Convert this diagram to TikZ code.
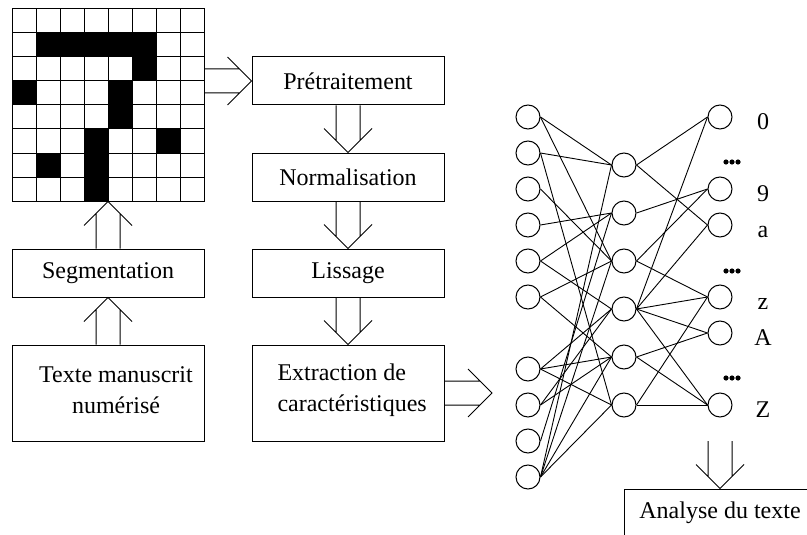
\documentclass[tikz,border=0pt]{standalone}
\usepackage{fontspec}
\setmainfont{Liberation Serif}
\newcommand\arrDown[2]{%
  \draw ([xshift=-12pt]#1) -- ([xshift=-12pt,yshift=12pt]#2)
        ([xshift=12pt]#1) -- ([xshift=12pt,yshift=12pt]#2)
        ([xshift=-24pt,yshift=24pt]#2) -- (#2) -- ([xshift=24pt,yshift=24pt]#2);}
\newcommand\arrUp[2]{%
  \draw ([xshift=-12pt]#1) -- ([xshift=-12pt,yshift=-12pt]#2)
        ([xshift=12pt]#1) -- ([xshift=12pt,yshift=-12pt]#2)
        ([xshift=-24pt,yshift=-24pt]#2) -- (#2) -- ([xshift=24pt,yshift=-24pt]#2);}
\newcommand\arrRight[2]{%
  \draw ([yshift=12pt]#1) -- ([xshift=-12pt,yshift=12pt]#2)
        ([yshift=-12pt]#1) -- ([xshift=-12pt,yshift=-12pt]#2)
        ([xshift=-24pt,yshift=24pt]#2) -- (#2) -- ([xshift=-24pt,yshift=-24pt]#2);}
\begin{document}
\begin{tikzpicture}[x=1pt,y=-1pt,line width=1pt,
  box/.style={draw,minimum width=192pt,minimum height=48pt,inner sep=0pt,font=\fontsize{24}{31}\selectfont},
  txt/.style={inner sep=0pt,font=\fontsize{24}{31}\selectfont},
  lbl/.style={anchor=base,inner sep=0pt,font=\fontsize{24}{31}\selectfont},
  neuron/.style={draw,circle,minimum size=24pt,inner sep=0pt},
  link/.style={line width=0.9pt}]
\useasboundingbox (0,0) rectangle (807,535);
\clip (0,0) rectangle (807,535);
% character grid
\foreach \c/\r in {1/1,2/1,3/1,4/1,5/1,5/2,0/3,4/3,4/4,3/5,6/5,1/6,3/6,3/7}
  \fill ({12+24*\c},{9+24*\r}) rectangle ++(24,24);
\foreach \k in {1,...,7} {
  \draw ({12+24*\k},9) -- ({12+24*\k},201);
  \draw (12,{9+24*\k}) -- (204,{9+24*\k});
}
\node[draw,minimum size=192pt,inner sep=0pt] (grid) at (108,105) {};
% pipeline boxes
\node[box] (pre) at (348,81) {Prétraitement};
\node[box] (norm) at (348,177) {Normalisation};
\node[box] (liss) at (348,273) {Lissage};
\node[box,minimum height=96pt] (extr) at (348,393) {};
\node[txt,align=left,anchor=west] (extrtxt) at (277,390) {Extraction de\\caractéristiques};
\node[box] (seg) at (108,273) {Segmentation};
\node[box,minimum height=96pt] (texte) at (108,393) {};
\node[txt,align=center] (textetxt) at (116,390) {Texte manuscrit\\numérisé};
\node[box] (analyse) at (720,513) {Analyse du texte};
% neural network
\foreach \n/\y in {1/117,2/153,3/189,4/225,5/261,6/297,7/369,8/405,9/441,10/477}
  \node[neuron] (i\n) at (528,\y) {};
\foreach \n/\y in {1/165,2/213,3/261,4/309,5/357,6/405}
  \node[neuron] (h\n) at (624,\y) {};
\foreach \n/\y/\t in {1/117/0,2/189/9,3/225/a,4/297/z,5/333/A,6/405/Z} {
  \node[neuron] (o\n) at (720,\y) {};
  \node[lbl] (l\n) at (763,\y+12) {\t};
}
\foreach \a/\b in {1/1,1/3,2/1,2/6,3/3,4/2,5/2,5/4,6/3,6/5,7/4,7/5,7/6,8/4,8/5,9/2,10/1,10/3,10/5,10/6}
  \draw[link] (i\a.east) -- (h\b.west);
\foreach \a/\b in {1/1,1/3,2/2,3/2,3/4,4/1,4/3,4/4,4/5,4/6,5/5,5/6,6/4,6/6}
  \draw[link] (h\a.east) -- (o\b.west);
\foreach \y in {162,271,378}
  \foreach \x in {726,732,738}
    \fill (\x,\y) circle (2.6pt);
% double arrows
\coordinate (gridout) at (grid.east |- pre.west);
\arrRight{gridout}{pre.west}
\arrDown{pre.south}{norm.north}
\arrDown{norm.south}{liss.north}
\arrDown{liss.south}{extr.north}
\arrUp{texte.north}{seg.south}
\arrUp{seg.north}{grid.south}
\coordinate (netin) at (492,393);
\arrRight{extr.east}{netin}
\coordinate (netout) at (720,441);
\arrDown{netout}{analyse.north}
\end{tikzpicture}
\end{document}
